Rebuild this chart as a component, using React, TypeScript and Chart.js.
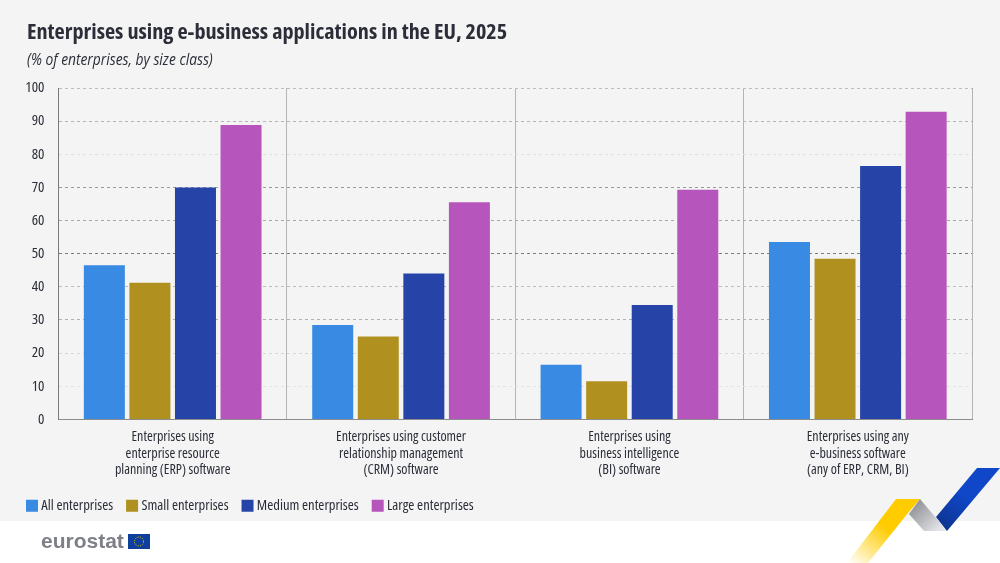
import { useEffect, useRef } from "react";
import { Chart, registerables } from "chart.js";

Chart.register(...registerables);

const categories = [
  ["Enterprises using", "enterprise resource", "planning (ERP) software"],
  ["Enterprises using customer", "relationship management", "(CRM) software"],
  ["Enterprises using", "business intelligence", "(BI) software"],
  ["Enterprises using any", "e-business software", "(any of ERP, CRM, BI)"],
];
const allEnterprises = [46.5, 28.5, 16.5, 53.5];
const smallEnterprises = [41.2, 25, 11.5, 48.5];
const mediumEnterprises = [70, 44, 34.5, 76.5];
const largeEnterprises = [88.8, 65.5, 69.3, 92.8];

const FONT = "'Open Sans', sans-serif";
const TEXT = "#2b2e38";
// chart.js puts "weight" straight in the canvas font string, the stretch keyword is valid there
const CONDENSED = "condensed";

// the dashed lines are not all equally strong in the reference
const gridShades: Record<number, string> = {
  0: "#8c8c8c",
  10: "#e2e2e2",
  20: "#d8d8d8",
  30: "#b0b0b0",
  40: "#bcbcbc",
  50: "#7c7c7c",
  60: "#a8a8a8",
  70: "#9a9a9a",
  80: "#e0e0e0",
  90: "#b4b4b4",
  100: "#bcbcbc",
};

// plot background + footer strip
const pageBackground = {
  id: "pageBackground",
  beforeDraw(chart: Chart) {
    const { ctx, width } = chart;
    ctx.save();
    ctx.fillStyle = "#f4f4f4";
    ctx.fillRect(0, 0, width, 521);
    ctx.restore();
  },
};

export default function App() {
  const chartRef = useRef<HTMLCanvasElement | null>(null);

  useEffect(() => {
    document.body.style.margin = "0";
    document.body.style.background = "#ffffff";
    if (!chartRef.current) return;

    const myChart = new Chart(chartRef.current, {
      type: "bar",
      plugins: [pageBackground],
      data: {
        labels: categories,
        datasets: [
          { label: "All enterprises", data: allEnterprises, backgroundColor: "#388ae2" },
          { label: "Small enterprises", data: smallEnterprises, backgroundColor: "#b09120" },
          { label: "Medium enterprises", data: mediumEnterprises, backgroundColor: "#2644a7" },
          { label: "Large enterprises", data: largeEnterprises, backgroundColor: "#b656bd" },
        ],
      },
      options: {
        responsive: false,
        animation: false,
        layout: { padding: { left: 13, right: 28, top: 88, bottom: 40 } },
        datasets: { bar: { categoryPercentage: 0.798, barPercentage: 0.9 } },
        plugins: {
          tooltip: { enabled: false },
          legend: {
            position: "bottom",
            align: "start",
            labels: {
              // small box + thick stroke: 12px swatch with the text closer than chart.js would put it
              boxWidth: 4,
              boxHeight: 4,
              padding: 17,
              color: TEXT,
              font: { family: FONT, size: 14.6, weight: CONDENSED },
              generateLabels: (chart) =>
                Chart.defaults.plugins.legend.labels.generateLabels(chart).map((item) => ({
                  ...item,
                  lineWidth: 8,
                  strokeStyle: item.fillStyle,
                })),
            },
          },
        },
        scales: {
          x: {
            afterFit: (scale) => {
              scale.height = 62;
            },
            grid: { color: "#b4b4b4", lineWidth: 1, drawTicks: false },
            border: { color: "#8c8c8c", width: 1 },
            ticks: {
              color: TEXT,
              padding: 10,
              font: { family: FONT, size: 14, weight: CONDENSED, lineHeight: 1.15 },
              maxRotation: 0,
            },
          },
          y: {
            min: 0,
            max: 100,
            afterFit: (scale) => {
              scale.width = 45.5;
            },
            grid: {
              color: (ctx) => gridShades[ctx.tick.value] ?? "#c4c4c4",
              lineWidth: 1,
              drawTicks: false,
            },
            border: { color: "#7a7a7a", width: 1, dash: [3, 3] },
            ticks: {
              stepSize: 10,
              color: TEXT,
              padding: 14,
              font: { family: FONT, size: 15, weight: CONDENSED },
            },
          },
        },
      },
    });

    return () => {
      myChart.destroy();
    };
  }, []);

  return (
    <div style={{ position: "relative", width: 1000, height: 563, overflow: "hidden" }}>
      <canvas ref={chartRef} width={1000} height={563} style={{ display: "block" }}></canvas>
      <div
        style={{
          position: "absolute",
          left: 27,
          top: 16,
          fontFamily: FONT,
          fontStretch: "condensed",
          fontWeight: 700,
          fontSize: 22.2,
          lineHeight: "30px",
          color: TEXT,
          whiteSpace: "nowrap",
        }}
      >
        Enterprises using e-business applications in the EU, 2025
      </div>
      <div
        style={{
          position: "absolute",
          left: 27,
          top: 49,
          fontFamily: FONT,
          fontStyle: "italic",
          fontSize: 15.5,
          lineHeight: "20px",
          color: TEXT,
          whiteSpace: "nowrap",
          transform: "scaleX(0.89)",
          transformOrigin: "left center",
        }}
      >
        (% of enterprises, by size class)
      </div>
      <div
        style={{
          position: "absolute",
          left: 41,
          top: 529,
          fontFamily: "'Liberation Sans', sans-serif",
          fontWeight: 700,
          fontSize: 21,
          lineHeight: "24px",
          color: "#7f8087",
        }}
      >
        eurostat
      </div>
      <svg width={1000} height={563} style={{ position: "absolute", left: 0, top: 0 }}>
        <defs>
          <linearGradient id="yellow" gradientUnits="userSpaceOnUse" x1="852" y1="566" x2="884" y2="526">
            <stop offset="0" stopColor="#ffcc00" stopOpacity="0" />
            <stop offset="1" stopColor="#ffcc00" />
          </linearGradient>
          <linearGradient id="grey" gradientUnits="userSpaceOnUse" x1="912" y1="505" x2="938" y2="532">
            <stop offset="0" stopColor="#8f9196" />
            <stop offset="1" stopColor="#e6e7ea" />
          </linearGradient>
          <linearGradient id="blue" gradientUnits="userSpaceOnUse" x1="940" y1="526" x2="965" y2="495">
            <stop offset="0" stopColor="#0e3490" />
            <stop offset="1" stopColor="#0f47c8" />
          </linearGradient>
        </defs>
        <polygon points="896,499 920,499 908,513 868,563 847,563" fill="url(#yellow)" />
        <polygon points="909,514 920,499 947,531 924,531" fill="url(#grey)" />
        <polygon points="936,517 977,468 1000,468 947,531" fill="url(#blue)" />
        <rect x="128" y="534" width="22" height="15" fill="#0e3f9c" />
        <circle cx="139" cy="541.5" r="4.5" fill="none" stroke="#ffd400" strokeWidth="1" strokeDasharray="1 1.4" />
      </svg>
    </div>
  );
}
